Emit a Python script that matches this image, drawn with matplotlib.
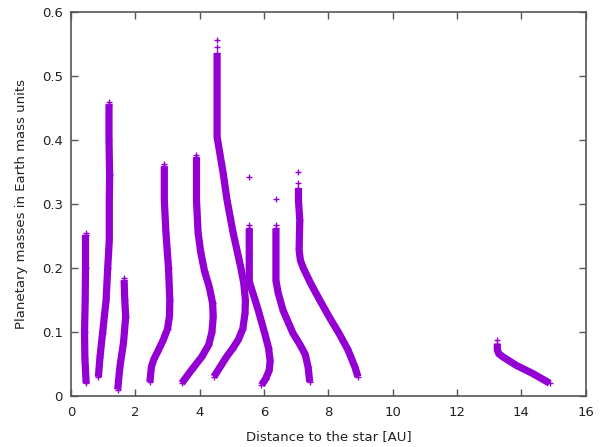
import matplotlib
matplotlib.use("Agg")
import matplotlib.pyplot as plt

# tracks of planetary mass vs distance
t1_x = [0.45, 0.45, 0.44, 0.42, 0.43, 0.47]
t1_y = [0.252, 0.20, 0.15, 0.10, 0.06, 0.02]

t2_x = [1.18, 1.18, 1.20, 1.19, 1.19, 1.14, 1.09, 0.98, 0.90, 0.85]
t2_y = [0.456, 0.40, 0.345, 0.306, 0.244, 0.20, 0.15, 0.098, 0.061, 0.03]

t3_x = [1.65, 1.67, 1.70, 1.63, 1.52, 1.45]
t3_y = [0.181, 0.15, 0.124, 0.083, 0.046, 0.01]

t4_x = [2.90, 2.90, 2.95, 3.03, 3.07, 3.06, 3.00, 2.87, 2.70, 2.58, 2.50, 2.45]
t4_y = [0.359, 0.306, 0.255, 0.20, 0.15, 0.125, 0.105, 0.088, 0.07, 0.058, 0.046, 0.022]

t5_x = [3.90, 3.90, 3.95, 4.03, 4.15, 4.30, 4.40, 4.42, 4.38, 4.28, 4.06, 3.75, 3.44]
t5_y = [0.373, 0.306, 0.255, 0.225, 0.195, 0.17, 0.145, 0.124, 0.10, 0.08, 0.061, 0.041, 0.02]

t6_x = [4.54, 4.54, 4.61, 4.73, 4.85, 5.04, 5.28, 5.37, 5.42, 5.41, 5.34, 5.20, 5.02, 4.83, 4.44]
t6_y = [0.536, 0.405, 0.384, 0.348, 0.306, 0.255, 0.20, 0.176, 0.15, 0.13, 0.105, 0.088, 0.074, 0.061, 0.03]

t7_x = [5.54, 5.54, 5.58, 5.66, 5.82, 6.02, 6.14, 6.19, 6.16, 6.05, 5.92]
t7_y = [0.262, 0.18, 0.172, 0.16, 0.134, 0.098, 0.075, 0.055, 0.04, 0.027, 0.017]

t8_x = [6.37, 6.37, 6.44, 6.59, 6.90, 7.12, 7.28, 7.37, 7.42]
t8_y = [0.262, 0.18, 0.161, 0.134, 0.098, 0.08, 0.065, 0.045, 0.022]

t9_x = [7.07, 7.07, 7.11, 7.09, 7.13, 7.22, 7.45, 7.73, 8.02, 8.33, 8.61, 8.82, 8.92]
t9_y = [0.325, 0.306, 0.275, 0.228, 0.212, 0.20, 0.176, 0.15, 0.124, 0.098, 0.072, 0.046, 0.030]

t10_x = [13.25, 13.25, 13.30, 13.43, 13.84, 14.36, 14.88]
t10_y = [0.082, 0.072, 0.066, 0.061, 0.048, 0.035, 0.020]

# isolated points sticking out of the tracks
stray_x = [4.54, 4.54, 5.54, 5.54, 6.37, 6.37, 7.07, 7.07, 13.25,
           1.65, 2.90, 3.90, 1.18, 0.45]
stray_y = [0.556, 0.545, 0.343, 0.267, 0.308, 0.267, 0.350, 0.333, 0.0875,
           0.184, 0.362, 0.376, 0.459, 0.255]

tracks = [(t1_x, t1_y), (t2_x, t2_y), (t3_x, t3_y), (t4_x, t4_y), (t5_x, t5_y),
          (t6_x, t6_y), (t7_x, t7_y), (t8_x, t8_y), (t9_x, t9_y), (t10_x, t10_y)]

color = "#9400D3"

fig = plt.figure(figsize=(6.02, 4.47), dpi=100)
ax = fig.add_axes([0.118, 0.114, 0.855, 0.859])

for xs, ys in tracks:
    ax.plot(xs, ys, "-", color=color, lw=5.2, solid_joinstyle="round",
            solid_capstyle="butt")
    ax.plot(xs, ys, "+", color=color, ms=5, mew=1)
ax.plot(stray_x, stray_y, "+", color=color, ms=5, mew=1, ls="none")

ax.set_xlim(0, 16)
ax.set_ylim(0, 0.6)
ax.set_xticks(range(0, 17, 2))
ax.set_yticks([0, 0.1, 0.2, 0.3, 0.4, 0.5, 0.6])
ax.set_yticklabels(["0", "0.1", "0.2", "0.3", "0.4", "0.5", "0.6"])
ax.tick_params(direction="in", top=True, right=True, length=5, width=1,
               labelsize=9.5, colors="#555555", labelcolor="#222222")
ax.tick_params(axis="x", pad=7)
ax.tick_params(axis="y", pad=6)
for s in ax.spines.values():
    s.set_color("#555555")
    s.set_linewidth(1.2)

ax.set_xlabel("Distance to the star [AU]", fontsize=9.5, labelpad=8,
              color="#222222")
ax.set_ylabel("Planetary masses in Earth mass units", fontsize=9.5,
              labelpad=10, color="#222222")

fig.savefig("out.png", dpi=100)
